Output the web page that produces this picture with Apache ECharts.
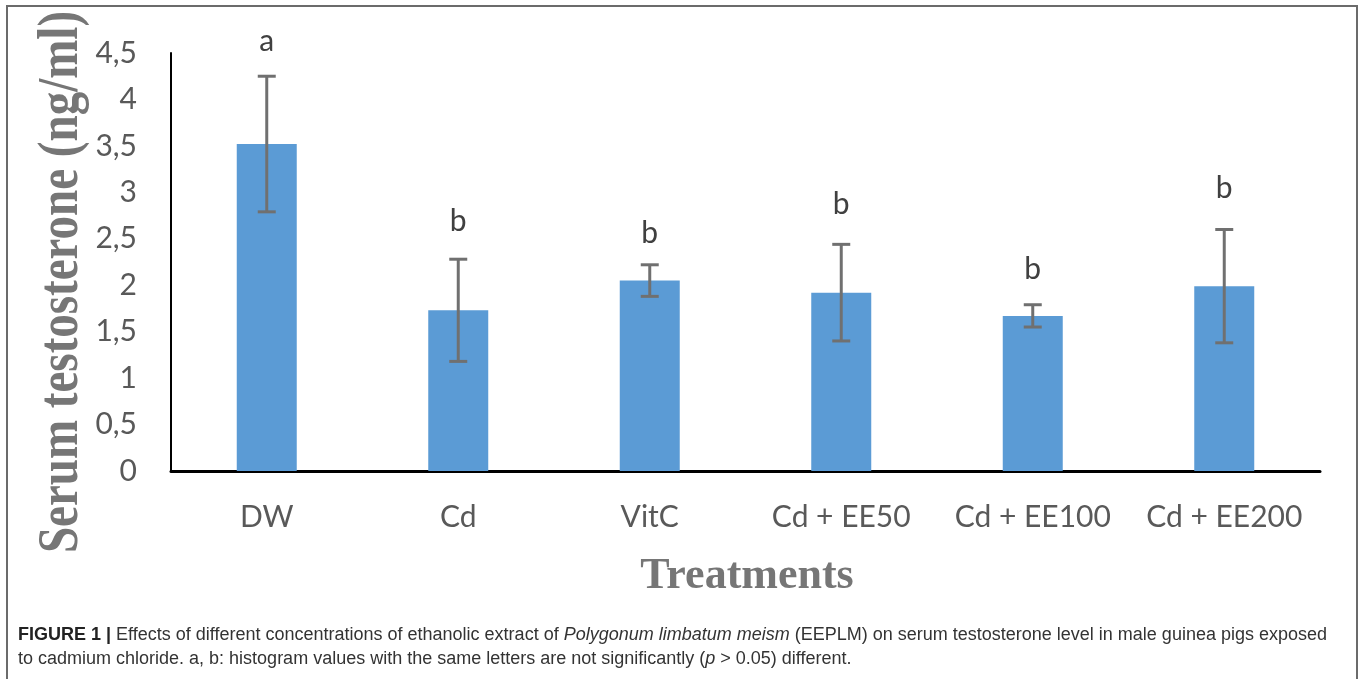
<!DOCTYPE html>
<html>
<head>
<meta charset="utf-8">
<script src="https://cdn.jsdelivr.net/npm/echarts@6/dist/echarts.min.js"></script>
<style>
html,body{margin:0;padding:0;background:#fff;}
#chart{width:1360px;height:679px;}
</style>
</head>
<body>
<div id="chart"></div>
<script>
// ---- data ----
const categories = ['DW', 'Cd', 'VitC', 'Cd + EE50', 'Cd + EE100', 'Cd + EE200'];
const means = [3.52, 1.73, 2.05, 1.92, 1.67, 1.99];
const errors = [0.73, 0.55, 0.17, 0.52, 0.12, 0.61];
const letters = ['a', 'b', 'b', 'b', 'b', 'b'];
const letterLevels = [4.63, 2.69, 2.56, 2.87, 2.17, 3.04];
const yTicks = { min: 0, max: 4.5, step: 0.5 };

const errData = categories.map((c, i) => [i, means[i] - errors[i], means[i] + errors[i]]);
const letterData = categories.map((c, i) => [i, letterLevels[i], letters[i]]);

const chart = echarts.init(document.getElementById('chart'));
const labelFont = 'Lato';
const serif = '"Liberation Serif", "DejaVu Serif", serif';
const capFont = '"Liberation Sans", Arial, sans-serif';

chart.setOption({
  animation: false,
  backgroundColor: '#ffffff',
  grid: { left: 171, right: 40, top: 53, bottom: 208, containLabel: false },
  xAxis: {
    type: 'category',
    data: categories,
    axisLine: { show: true, lineStyle: { color: '#000', width: 3 } },
    axisTick: { show: false },
    axisLabel: { color: '#595959', fontSize: 30, fontFamily: labelFont, margin: 31, interval: 0 },
    splitLine: { show: false }
  },
  yAxis: {
    type: 'value',
    min: yTicks.min, max: yTicks.max, interval: yTicks.step,
    axisLine: { show: true, lineStyle: { color: '#000', width: 2 } },
    axisTick: { show: false },
    splitLine: { show: false },
    axisLabel: {
      color: '#595959', fontSize: 30, fontFamily: labelFont, margin: 34,
      formatter: v => String(v).replace('.', ',')
    }
  },
  series: [
    {
      type: 'bar',
      data: means,
      barWidth: 60,
      itemStyle: { color: '#5b9bd5' },
      z: 2
    },
    {
      type: 'custom',
      data: errData,
      z: 3,
      renderItem: function (params, api) {
        const x = api.value(0);
        const lo = api.coord([x, api.value(1)]);
        const hi = api.coord([x, api.value(2)]);
        const cap = 9;
        const style = { stroke: '#707070', lineWidth: 3 };
        return {
          type: 'group',
          children: [
            { type: 'line', shape: { x1: hi[0], y1: hi[1], x2: lo[0], y2: lo[1] }, style: style },
            { type: 'line', shape: { x1: hi[0] - cap, y1: hi[1], x2: hi[0] + cap, y2: hi[1] }, style: style },
            { type: 'line', shape: { x1: lo[0] - cap, y1: lo[1], x2: lo[0] + cap, y2: lo[1] }, style: style }
          ]
        };
      }
    },
    {
      type: 'custom',
      data: letterData,
      z: 4,
      renderItem: function (params, api) {
        const p = api.coord([api.value(0), api.value(1)]);
        return {
          type: 'text',
          x: p[0], y: p[1],
          style: {
            text: letters[params.dataIndex],
            fill: '#404040',
            font: '30px ' + labelFont,
            align: 'center',
            verticalAlign: 'middle'
          }
        };
      }
    }
  ],
  graphic: [
    {
      type: 'rect',
      shape: { x: 7, y: 6, width: 1350, height: 700 },
      style: { fill: 'none', stroke: '#6b6b6b', lineWidth: 2 },
      silent: true
    },
    {
      type: 'text',
      x: 62, y: 282,
      rotation: Math.PI / 2,
      scaleY: 1.2,
      style: {
        text: 'Serum testosterone (ng/ml)',
        font: 'bold 47px ' + serif,
        fill: '#767676',
        align: 'center',
        verticalAlign: 'middle'
      }
    },
    {
      type: 'text',
      x: 747, y: 577,
      style: {
        text: 'Treatments',
        font: 'bold 44px ' + serif,
        fill: '#767676',
        align: 'center',
        verticalAlign: 'middle'
      }
    },
    {
      type: 'text',
      x: 18, y: 623,
      style: {
        text: '{b|FIGURE 1 |} Effects of different concentrations of ethanolic extract of {i|Polygonum limbatum meism} (EEPLM) on serum testosterone level in male guinea pigs exposed\nto cadmium chloride. a, b: histogram values with the same letters are not significantly ({i|p} > 0.05) different.',
        font: '18px ' + capFont,
        fill: '#333333',
        lineHeight: 24,
        rich: {
          b: { fontWeight: 'bold', fontSize: 18, fontFamily: capFont, fill: '#222', lineHeight: 24 },
          i: { fontStyle: 'italic', fontSize: 18, fontFamily: capFont, fill: '#333', lineHeight: 24 }
        }
      }
    }
  ]
});
</script>
</body>
</html>
